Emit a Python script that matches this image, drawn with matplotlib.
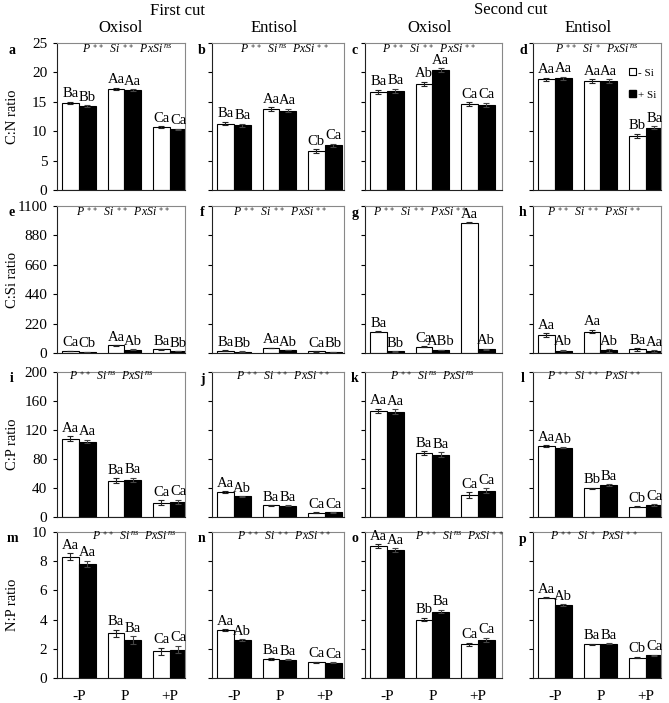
import numpy as np
import matplotlib.pyplot as plt
from matplotlib.patches import Patch

plt.rcParams['font.family'] = ['Liberation Serif', 'DejaVu Serif']
plt.rcParams['mathtext.fontset'] = 'custom'
plt.rcParams['mathtext.rm'] = 'Liberation Serif'
plt.rcParams['mathtext.it'] = 'Liberation Serif:italic'

# P-Behandlungen
Behandlung = ["-P", "P", "+P"]

# Spalten: Oxisol 1. Schnitt, Entisol 1. Schnitt, Oxisol 2. Schnitt, Entisol 2. Schnitt
# C:N
cn_ohne = [[14.8, 17.2, 10.7], [11.3, 13.8, 6.6], [16.7, 18.1, 14.6], [18.8, 18.5, 9.2]]
cn_mit = [[14.25, 16.95, 10.3], [11.0, 13.5, 7.6], [16.9, 20.4, 14.5], [19.0, 18.5, 10.6]]
cn_err_ohne = [[0.2, 0.2, 0.15], [0.3, 0.3, 0.3], [0.35, 0.35, 0.35], [0.3, 0.3, 0.35]]
cn_err_mit = [[0.15, 0.15, 0.1], [0.3, 0.3, 0.3], [0.35, 0.3, 0.35], [0.3, 0.3, 0.3]]
cn_buchst = [["Ba", "Bb", "Aa", "Aa", "Ca", "Ca"], ["Ba", "Ba", "Aa", "Aa", "Cb", "Ca"],
             ["Ba", "Ba", "Ab", "Aa", "Ca", "Ca"], ["Aa", "Aa", "Aa", "Aa", "Bb", "Ba"]]

# C:Si
csi_ohne = [[14, 57, 28], [18, 38, 12], [158, 48, 975], [133, 160, 27]]
csi_mit = [[8, 25, 14], [11, 22, 8], [13, 22, 28], [18, 20, 12]]
csi_err_ohne = [[2, 3, 2], [2, 2, 1], [4, 3, 4], [14, 14, 10]]
csi_err_mit = [[1, 2, 1], [1, 1, 1], [2, 2, 3], [6, 10, 8]]
csi_buchst = [["Ca", "Cb", "Aa", "Ab", "Ba", "Bb"], ["Ba", "Bb", "Aa", "Ab", "Ca", "Bb"],
              ["Ba", "Bb", "Ca", "ABb", "Aa", "Ab"], ["Aa", "Ab", "Aa", "Ab", "Ba", "Aa"]]

# C:P
cp_ohne = [[108, 50, 19.5], [34.5, 16, 6], [146.5, 88, 30], [97.5, 39.5, 14]]
cp_mit = [[104, 51, 21], [28.5, 15.5, 6.5], [145.5, 86, 36.5], [95.5, 44, 16.5]]
cp_err_ohne = [[3.5, 3.5, 3.5], [0.8, 0.6, 0.4], [3, 3, 4], [1.2, 1, 0.8]]
cp_err_mit = [[2.5, 3, 3], [0.6, 0.5, 0.4], [3, 3, 3], [1, 1, 0.8]]
cp_buchst = [["Aa", "Aa", "Ba", "Ba", "Ca", "Ca"], ["Aa", "Ab", "Ba", "Ba", "Ca", "Ca"],
             ["Aa", "Aa", "Ba", "Ba", "Ca", "Ca"], ["Aa", "Ab", "Bb", "Ba", "Cb", "Ca"]]

# N:P
np_ohne = [[8.3, 3.05, 1.82], [3.3, 1.3, 1.07], [9.05, 4.0, 2.3], [5.5, 2.3, 1.4]]
np_mit = [[7.82, 2.6, 1.95], [2.6, 1.25, 1.05], [8.75, 4.55, 2.6], [5.0, 2.35, 1.55]]
np_err_ohne = [[0.25, 0.25, 0.25], [0.06, 0.06, 0.05], [0.12, 0.12, 0.12], [0.05, 0.05, 0.05]]
np_err_mit = [[0.22, 0.25, 0.25], [0.05, 0.05, 0.05], [0.12, 0.12, 0.15], [0.05, 0.05, 0.05]]
np_buchst = [["Aa", "Aa", "Ba", "Ba", "Ca", "Ca"], ["Aa", "Ab", "Ba", "Ba", "Ca", "Ca"],
             ["Aa", "Aa", "Bb", "Ba", "Ca", "Ca"], ["Aa", "Ab", "Ba", "Ba", "Cb", "Ca"]]

# Signifikanzen (P, Si, PxSi)
sig = [[("**", "**", "ns"), ("**", "ns", "**"), ("**", "**", "**"), ("**", "*", "ns")],
       [("**", "**", "**"), ("**", "**", "**"), ("**", "**", "**"), ("**", "**", "**")],
       [("**", "ns", "ns"), ("**", "**", "**"), ("**", "ns", "ns"), ("**", "**", "**")],
       [("**", "ns", "ns"), ("**", "**", "**"), ("**", "ns", "**"), ("**", "*", "**")]]

Zeilen = [
    ("C:N ratio", 25, 5, cn_ohne, cn_mit, cn_err_ohne, cn_err_mit, cn_buchst),
    ("C:Si ratio", 1100, 220, csi_ohne, csi_mit, csi_err_ohne, csi_err_mit, csi_buchst),
    ("C:P ratio", 200, 40, cp_ohne, cp_mit, cp_err_ohne, cp_err_mit, cp_buchst),
    ("N:P ratio", 10, 2, np_ohne, np_mit, np_err_ohne, np_err_mit, np_buchst),
]

# Layout in Pixeln
W, H = 669, 703
spalten_px = [(57, 185), (212, 344), (365, 502), (533, 661)]
zeilen_px = [(43, 190), (206, 353), (372, 517), (532, 678)]
kopf_x = [[0.55, 0.55, 0.47, 0.50], [0.52, 0.52, 0.40, 0.48],
          [0.42, 0.54, 0.49, 0.48], [0.60, 0.55, 0.69, 0.48]]
kopf_y = [0.952, 0.957, 0.965, 0.965]
buchstaben = "abcdefghijklmnop"

fig = plt.figure(figsize=(W / 100, H / 100), dpi=100)


def kopftext(s):
    def sup(x):
        if x == "ns":
            return r"^{\,ns}"
        return "^{\," + r"\ast" * len(x) + "}"
    return (r"$P" + sup(s[0]) + r"\ \ Si" + sup(s[1]) + r"\ \ PxSi" + sup(s[2]) + "$")


x = np.arange(3)
breite = 0.37
for zi, (ylab, ymax, ystep, ohne, mit, e_ohne, e_mit, buchst) in enumerate(Zeilen):
    t, b = zeilen_px[zi]
    for si in range(4):
        l, r = spalten_px[si]
        ax = fig.add_axes([l / W, 1 - b / H, (r - l) / W, (b - t) / H])
        ax.bar(x - breite / 2, ohne[si], breite, color="white", edgecolor="black", linewidth=0.8,
               yerr=e_ohne[si], capsize=2.5, error_kw=dict(ecolor="#222222", elinewidth=0.8, capthick=0.8))
        ax.bar(x + breite / 2, mit[si], breite, color="black", edgecolor="black", linewidth=0.8,
               yerr=e_mit[si], capsize=2.5, error_kw=dict(ecolor="#444444", elinewidth=0.8, capthick=0.8))
        # Buchstaben über den Balken
        for k in range(3):
            for j, (werte, fehler) in enumerate([(ohne, e_ohne), (mit, e_mit)]):
                xp = x[k] + (j - 0.5) * breite
                ax.annotate(buchst[si][2 * k + j], (xp, werte[si][k] + fehler[si][k]),
                            xytext=(0, 1), textcoords="offset points", ha="center", va="bottom",
                            fontsize=10.5)
        ax.set_ylim(0, ymax)
        ax.set_yticks(np.arange(0, ymax + ystep / 2, ystep))
        ax.set_xlim(-0.48, -0.48 + (r - l) / 45.5)
        ax.set_xticks(x)
        ax.tick_params(axis="y", direction="out", length=3, width=0.8, labelsize=11, pad=4)
        ax.tick_params(axis="x", length=0, pad=9, labelsize=11)
        if zi < 3:
            ax.set_xticklabels([])
        else:
            ax.set_xticklabels(Behandlung)
        if si > 0:
            ax.set_yticklabels([])
        for sp in ["top", "right"]:
            ax.spines[sp].set_color("#888888")
            ax.spines[sp].set_linewidth(0.8)
        for sp in ["left", "bottom"]:
            ax.spines[sp].set_color("#222222")
            ax.spines[sp].set_linewidth(0.8)
        ax.text(kopf_x[zi][si], kopf_y[zi], kopftext(sig[zi][si]), transform=ax.transAxes,
                ha="center", va="center", fontsize=8.5)
        # Panelbuchstabe
        bx = 12 if si == 0 else l - 10
        fig.text(bx / W, 1 - (t + 7) / H, buchstaben[zi * 4 + si], fontsize=10,
                 fontweight="bold", ha="center", va="center")
        if si == 3 and zi == 0:
            handles = [Patch(facecolor="white", edgecolor="black", linewidth=0.8),
                       Patch(facecolor="black", edgecolor="black")]
            ax.legend(handles, ["- Si", "+ Si"], loc="upper left", bbox_to_anchor=(0.69, 0.88),
                      frameon=False, fontsize=8, handlelength=0.6, handleheight=0.6,
                      handletextpad=0.2, labelspacing=1.1, borderpad=0.2)
    fig.text(13 / W, 1 - (t + b) / 2 / H, ylab, rotation=90, ha="center", va="center", fontsize=10.5)

# Titel
fig.text(178 / W, 1 - 11 / H, "First cut", ha="center", va="center", fontsize=12)
fig.text(511 / W, 1 - 10 / H, "Second cut", ha="center", va="center", fontsize=12)
for xc, name in zip([121, 274, 430, 588], ["Oxisol", "Entisol", "Oxisol", "Entisol"]):
    fig.text(xc / W, 1 - 28 / H, name, ha="center", va="center", fontsize=12)

plt.savefig("out.png", dpi=100)
